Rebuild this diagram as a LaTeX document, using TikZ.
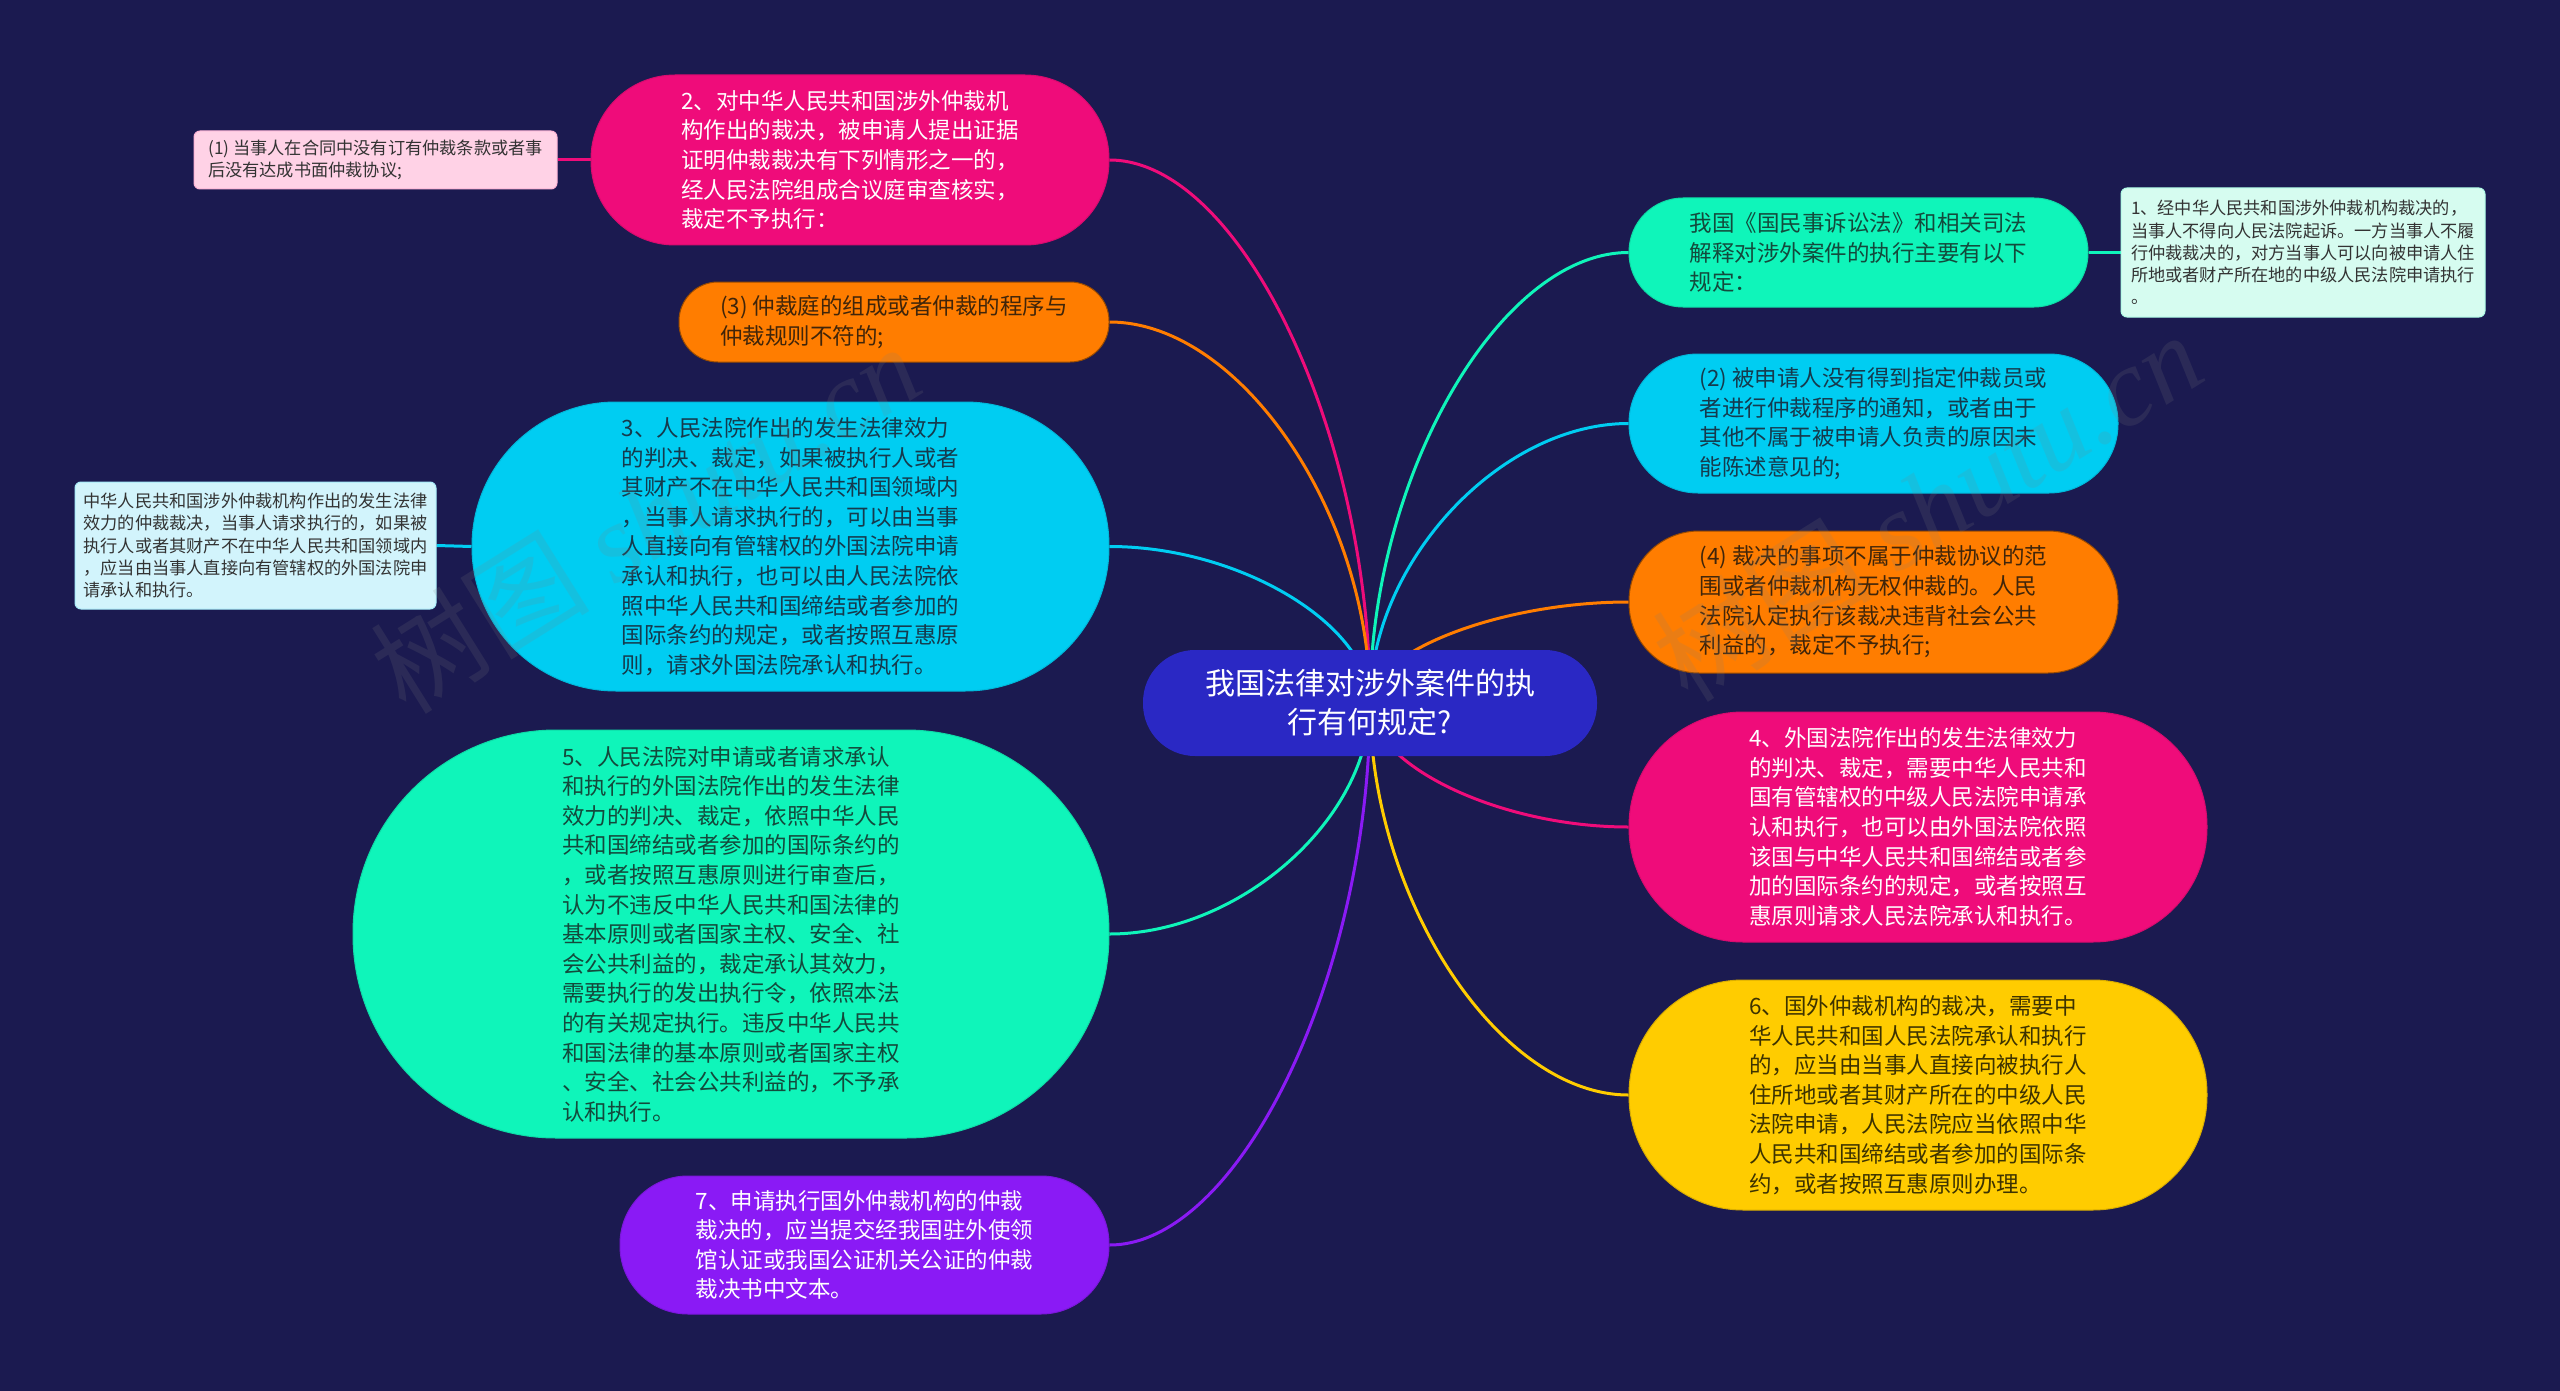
\documentclass[tikz,border=0pt]{standalone}
\usepackage{fontspec}
\setmainfont{Noto Sans CJK SC}
\newfontfamily\wmfont{Liberation Serif}
\usetikzlibrary{calc}
\definecolor{bgc}{HTML}{1B1A50}
\definecolor{hubc}{HTML}{2A28C4}
\definecolor{pinkc}{HTML}{EF0C7A}
\definecolor{orangec}{HTML}{FF7D00}
\definecolor{cyanc}{HTML}{00CDF2}
\definecolor{tealc}{HTML}{0FF5BA}
\definecolor{purplec}{HTML}{8A1AF5}
\definecolor{yellowc}{HTML}{FFCC00}
\definecolor{lpink}{HTML}{FFD2E6}
\definecolor{lcyan}{HTML}{D2F4FC}
\definecolor{lmint}{HTML}{D6FCF0}
\definecolor{tOrange}{HTML}{40250A}
\definecolor{tCyan}{HTML}{153A4D}
\definecolor{tTeal}{HTML}{134A3C}
\definecolor{tYellow}{HTML}{3D3300}
\definecolor{tNote}{HTML}{333333}
\pgfdeclarelayer{bg}
\pgfdeclarelayer{edges}
\pgfdeclarelayer{fg}
\pgfsetlayers{bg,edges,main,fg}
\newcommand\mmlink[3]{\draw[link,#1] (#2) .. controls ($(#2)!0.5!(#2 |- #3)$) and ($(#3)!0.5!(#2 |- #3)$) .. (#3);}
\begin{document}
\begin{tikzpicture}[x=1pt,y=-1pt,
  pill/.style={rectangle, inner sep=0pt, align=left, line width=1pt, font=\fontsize{22.5}{29.6}\selectfont},
  note/.style={rectangle, rounded corners=6pt, inner sep=0pt, align=left, line width=1pt, text=tNote, font=\fontsize{17.2}{22.2}\selectfont},
  link/.style={line width=3pt},
  wm/.style={rotate=32, text=gray, opacity=0.16, font=\fontsize{110}{120}\selectfont}
]
\useasboundingbox (0,0) rectangle (2560,1391);
\begin{pgfonlayer}{bg}
\fill[bgc] (0,0) rectangle (2560,1391);
\end{pgfonlayer}

% centre
\node[pill, align=center, fill=hubc, text=white, minimum width=454pt, minimum height=106pt, rounded corners=52pt,
  font=\fontsize{30}{39}\selectfont] (c) at (1370,703) {我国法律对涉外案件的执\\行有何规定?};

% left side
\node[pill, fill=pinkc, draw=pinkc!90!black, text=white, minimum width=518pt, minimum height=170pt, rounded corners=84pt] (n2) at (850,160)
 {2、对中华人民共和国涉外仲裁机\\构作出的裁决，被申请人提出证据\\证明仲裁裁决有下列情形之一的，\\经人民法院组成合议庭审查核实，\\裁定不予执行：};
\node[note, fill=lpink, draw=lpink!85!pinkc, minimum width=363pt, minimum height=58pt] (n1) at (375.5,160)
 {(1) 当事人在合同中没有订有仲裁条款或者事\\后没有达成书面仲裁协议;};
\node[pill, fill=orangec, draw=orangec!60!black, text=tOrange, minimum width=430pt, minimum height=80pt, rounded corners=39pt] (n3o) at (894,322)
 {(3) 仲裁庭的组成或者仲裁的程序与\\仲裁规则不符的;};
\node[pill, fill=cyanc, draw=cyanc!90!black, text=tCyan, minimum width=637pt, minimum height=289pt, rounded corners=144pt] (n3) at (790.5,546.5)
 {3、人民法院作出的发生法律效力\\的判决、裁定，如果被执行人或者\\其财产不在中华人民共和国领域内\\，当事人请求执行的，可以由当事\\人直接向有管辖权的外国法院申请\\承认和执行，也可以由人民法院依\\照中华人民共和国缔结或者参加的\\国际条约的规定，或者按照互惠原\\则，请求外国法院承认和执行。};
\node[note, fill=lcyan, draw=lcyan!80!cyanc, minimum width=361pt, minimum height=127pt] (n3a) at (255.5,545.5)
 {中华人民共和国涉外仲裁机构作出的发生法律\\效力的仲裁裁决，当事人请求执行的，如果被\\执行人或者其财产不在中华人民共和国领域内\\，应当由当事人直接向有管辖权的外国法院申\\请承认和执行。};
\node[pill, fill=tealc, draw=tealc!90!black, text=tTeal, minimum width=756pt, minimum height=408pt, rounded corners=203pt] (n5) at (731,934)
 {5、人民法院对申请或者请求承认\\和执行的外国法院作出的发生法律\\效力的判决、裁定，依照中华人民\\共和国缔结或者参加的国际条约的\\，或者按照互惠原则进行审查后，\\认为不违反中华人民共和国法律的\\基本原则或者国家主权、安全、社\\会公共利益的，裁定承认其效力，\\需要执行的发出执行令，依照本法\\的有关规定执行。违反中华人民共\\和国法律的基本原则或者国家主权\\、安全、社会公共利益的，不予承\\认和执行。};
\node[pill, fill=purplec, draw=purplec!90!black, text=white, minimum width=489pt, minimum height=138pt, rounded corners=68pt] (n7) at (864.5,1245)
 {7、申请执行国外仲裁机构的仲裁\\裁决的，应当提交经我国驻外使领\\馆认证或我国公证机关公证的仲裁\\裁决书中文本。};

% right side
\node[pill, fill=tealc, draw=tealc!90!black, text=tTeal, minimum width=459pt, minimum height=109pt, rounded corners=54pt] (r1) at (1858.5,252.5)
 {我国《国民事诉讼法》和相关司法\\解释对涉外案件的执行主要有以下\\规定：};
\node[note, fill=lmint, draw=lmint!80!tealc, minimum width=364pt, minimum height=129pt] (r1a) at (2303,252.5)
 {1、经中华人民共和国涉外仲裁机构裁决的，\\当事人不得向人民法院起诉。一方当事人不履\\行仲裁裁决的，对方当事人可以向被申请人住\\所地或者财产所在地的中级人民法院申请执行\\。};
\node[pill, fill=cyanc, draw=cyanc!90!black, text=tCyan, minimum width=489pt, minimum height=139pt, rounded corners=69pt] (r2) at (1873.5,423.5)
 {(2) 被申请人没有得到指定仲裁员或\\者进行仲裁程序的通知，或者由于\\其他不属于被申请人负责的原因未\\能陈述意见的;};
\node[pill, fill=orangec, draw=orangec!60!black, text=tOrange, minimum width=489pt, minimum height=142pt, rounded corners=70pt] (r3) at (1873.5,602)
 {(4) 裁决的事项不属于仲裁协议的范\\围或者仲裁机构无权仲裁的。人民\\法院认定执行该裁决违背社会公共\\利益的，裁定不予执行;};
\node[pill, fill=pinkc, draw=pinkc!90!black, text=white, minimum width=578pt, minimum height=230pt, rounded corners=114pt] (r4) at (1918,827)
 {4、外国法院作出的发生法律效力\\的判决、裁定，需要中华人民共和\\国有管辖权的中级人民法院申请承\\认和执行，也可以由外国法院依照\\该国与中华人民共和国缔结或者参\\加的国际条约的规定，或者按照互\\惠原则请求人民法院承认和执行。};
\node[pill, fill=yellowc, draw=yellowc!85!black, text=tYellow, minimum width=578pt, minimum height=230pt, rounded corners=114pt] (r5) at (1918,1095)
 {6、国外仲裁机构的裁决，需要中\\华人民共和国人民法院承认和执行\\的，应当由当事人直接向被执行人\\住所地或者其财产所在的中级人民\\法院申请，人民法院应当依照中华\\人民共和国缔结或者参加的国际条\\约，或者按照互惠原则办理。};

% connectors
\begin{pgfonlayer}{edges}
\mmlink{pinkc}{c.center}{n2.east}
\mmlink{orangec}{c.center}{n3o.east}
\mmlink{cyanc}{c.center}{n3.east}
\mmlink{tealc}{c.center}{n5.east}
\mmlink{purplec}{c.center}{n7.east}
\mmlink{tealc}{c.center}{r1.west}
\mmlink{cyanc}{c.center}{r2.west}
\mmlink{orangec}{c.center}{r3.west}
\mmlink{pinkc}{c.center}{r4.west}
\mmlink{yellowc}{c.center}{r5.west}
\draw[link,pinkc] (n2.west) -- (n1.east);
\draw[link,cyanc] (n3.west) -- (n3a.east);
\draw[link,tealc] (r1.east) -- (r1a.west);
\end{pgfonlayer}

% watermarks
\begin{pgfonlayer}{fg}
\node[wm] (wm1) at (645,518) {树图 {\wmfont\itshape shutu.cn}};
\node[wm] (wm2) at (1927,506) {树图 {\wmfont\itshape shutu.cn}};
\end{pgfonlayer}
\end{tikzpicture}
\end{document}
